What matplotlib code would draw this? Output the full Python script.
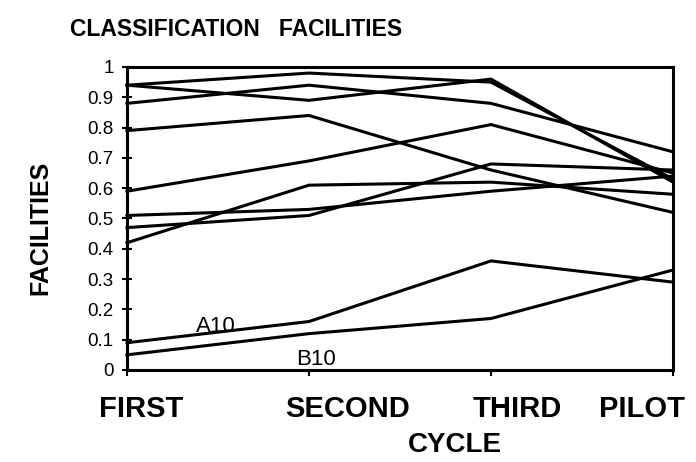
import matplotlib
matplotlib.use("Agg")
import matplotlib.pyplot as plt
import matplotlib.transforms as mtransforms

plt.rcParams['font.family'] = ['Liberation Sans', 'DejaVu Sans']

cycles = ["FIRST", "SECOND", "THIRD", "PILOT"]

line1 = [0.94, 0.98, 0.95, 0.63]
line2 = [0.94, 0.89, 0.96, 0.62]
line3 = [0.88, 0.94, 0.88, 0.72]
line4 = [0.79, 0.84, 0.66, 0.52]
line5 = [0.59, 0.69, 0.81, 0.65]
line6 = [0.42, 0.61, 0.62, 0.58]
line7 = [0.51, 0.53, 0.59, 0.64]
line8 = [0.47, 0.51, 0.68, 0.66]
a10 = [0.09, 0.16, 0.36, 0.29]
b10 = [0.05, 0.12, 0.17, 0.33]

series = [line1, line2, line3, line4, line5, line6, line7, line8, a10, b10]

y_ticks = [0, 0.1, 0.2, 0.3, 0.4, 0.5, 0.6, 0.7, 0.8, 0.9, 1]
y_tick_labels = ["0", "0.1", "0.2", "0.3", "0.4", "0.5", "0.6", "0.7", "0.8", "0.9", "1"]

W, H = 696, 462
fig = plt.figure(figsize=(W / 100, H / 100), dpi=100)
ax = fig.add_axes([127 / W, 1 - 370 / H, (673 - 127) / W, (370 - 67) / H])

x = list(range(len(cycles)))
for s in series:
    ax.plot(x, s, color="black", lw=2.2, solid_joinstyle="miter", clip_on=False)

ax.set_xlim(0, 3)
ax.set_ylim(0, 1)

ax.set_yticks(y_ticks)
ax.set_yticklabels(y_tick_labels, fontsize=13.5)
ax.tick_params(axis="y", direction="inout", length=7, width=1.5, pad=6)

ax.set_xticks(x)
ax.set_xticklabels(cycles, fontsize=21, fontweight="bold")
ax.tick_params(axis="x", direction="out", length=4, width=1.5, pad=14)
offsets_px = [14, 39, 26, -31]
for lab, dx in zip(ax.get_xticklabels(), offsets_px):
    lab.set_transform(lab.get_transform() + mtransforms.ScaledTranslation(dx / 100, 0, fig.dpi_scale_trans))

for sp in ax.spines.values():
    sp.set_linewidth(2.2)

ax.text(0.49, 0.145, "A10", fontsize=16, ha="center", va="center")
ax.text(1.04, 0.035, "B10", fontsize=16, ha="center", va="center")

fig.text(236 / W, 1 - 29 / H, "CLASSIFICATION   FACILITIES", fontsize=16.5,
         fontweight="bold", ha="center", va="center")
fig.text(40 / W, 1 - 228 / H, "FACILITIES", fontsize=18, fontweight="bold",
         rotation=90, ha="center", va="center")
fig.text(455 / W, 1 - 445 / H, "CYCLE", fontsize=20, fontweight="bold",
         ha="center", va="center")

fig.savefig("out.png", dpi=100)
